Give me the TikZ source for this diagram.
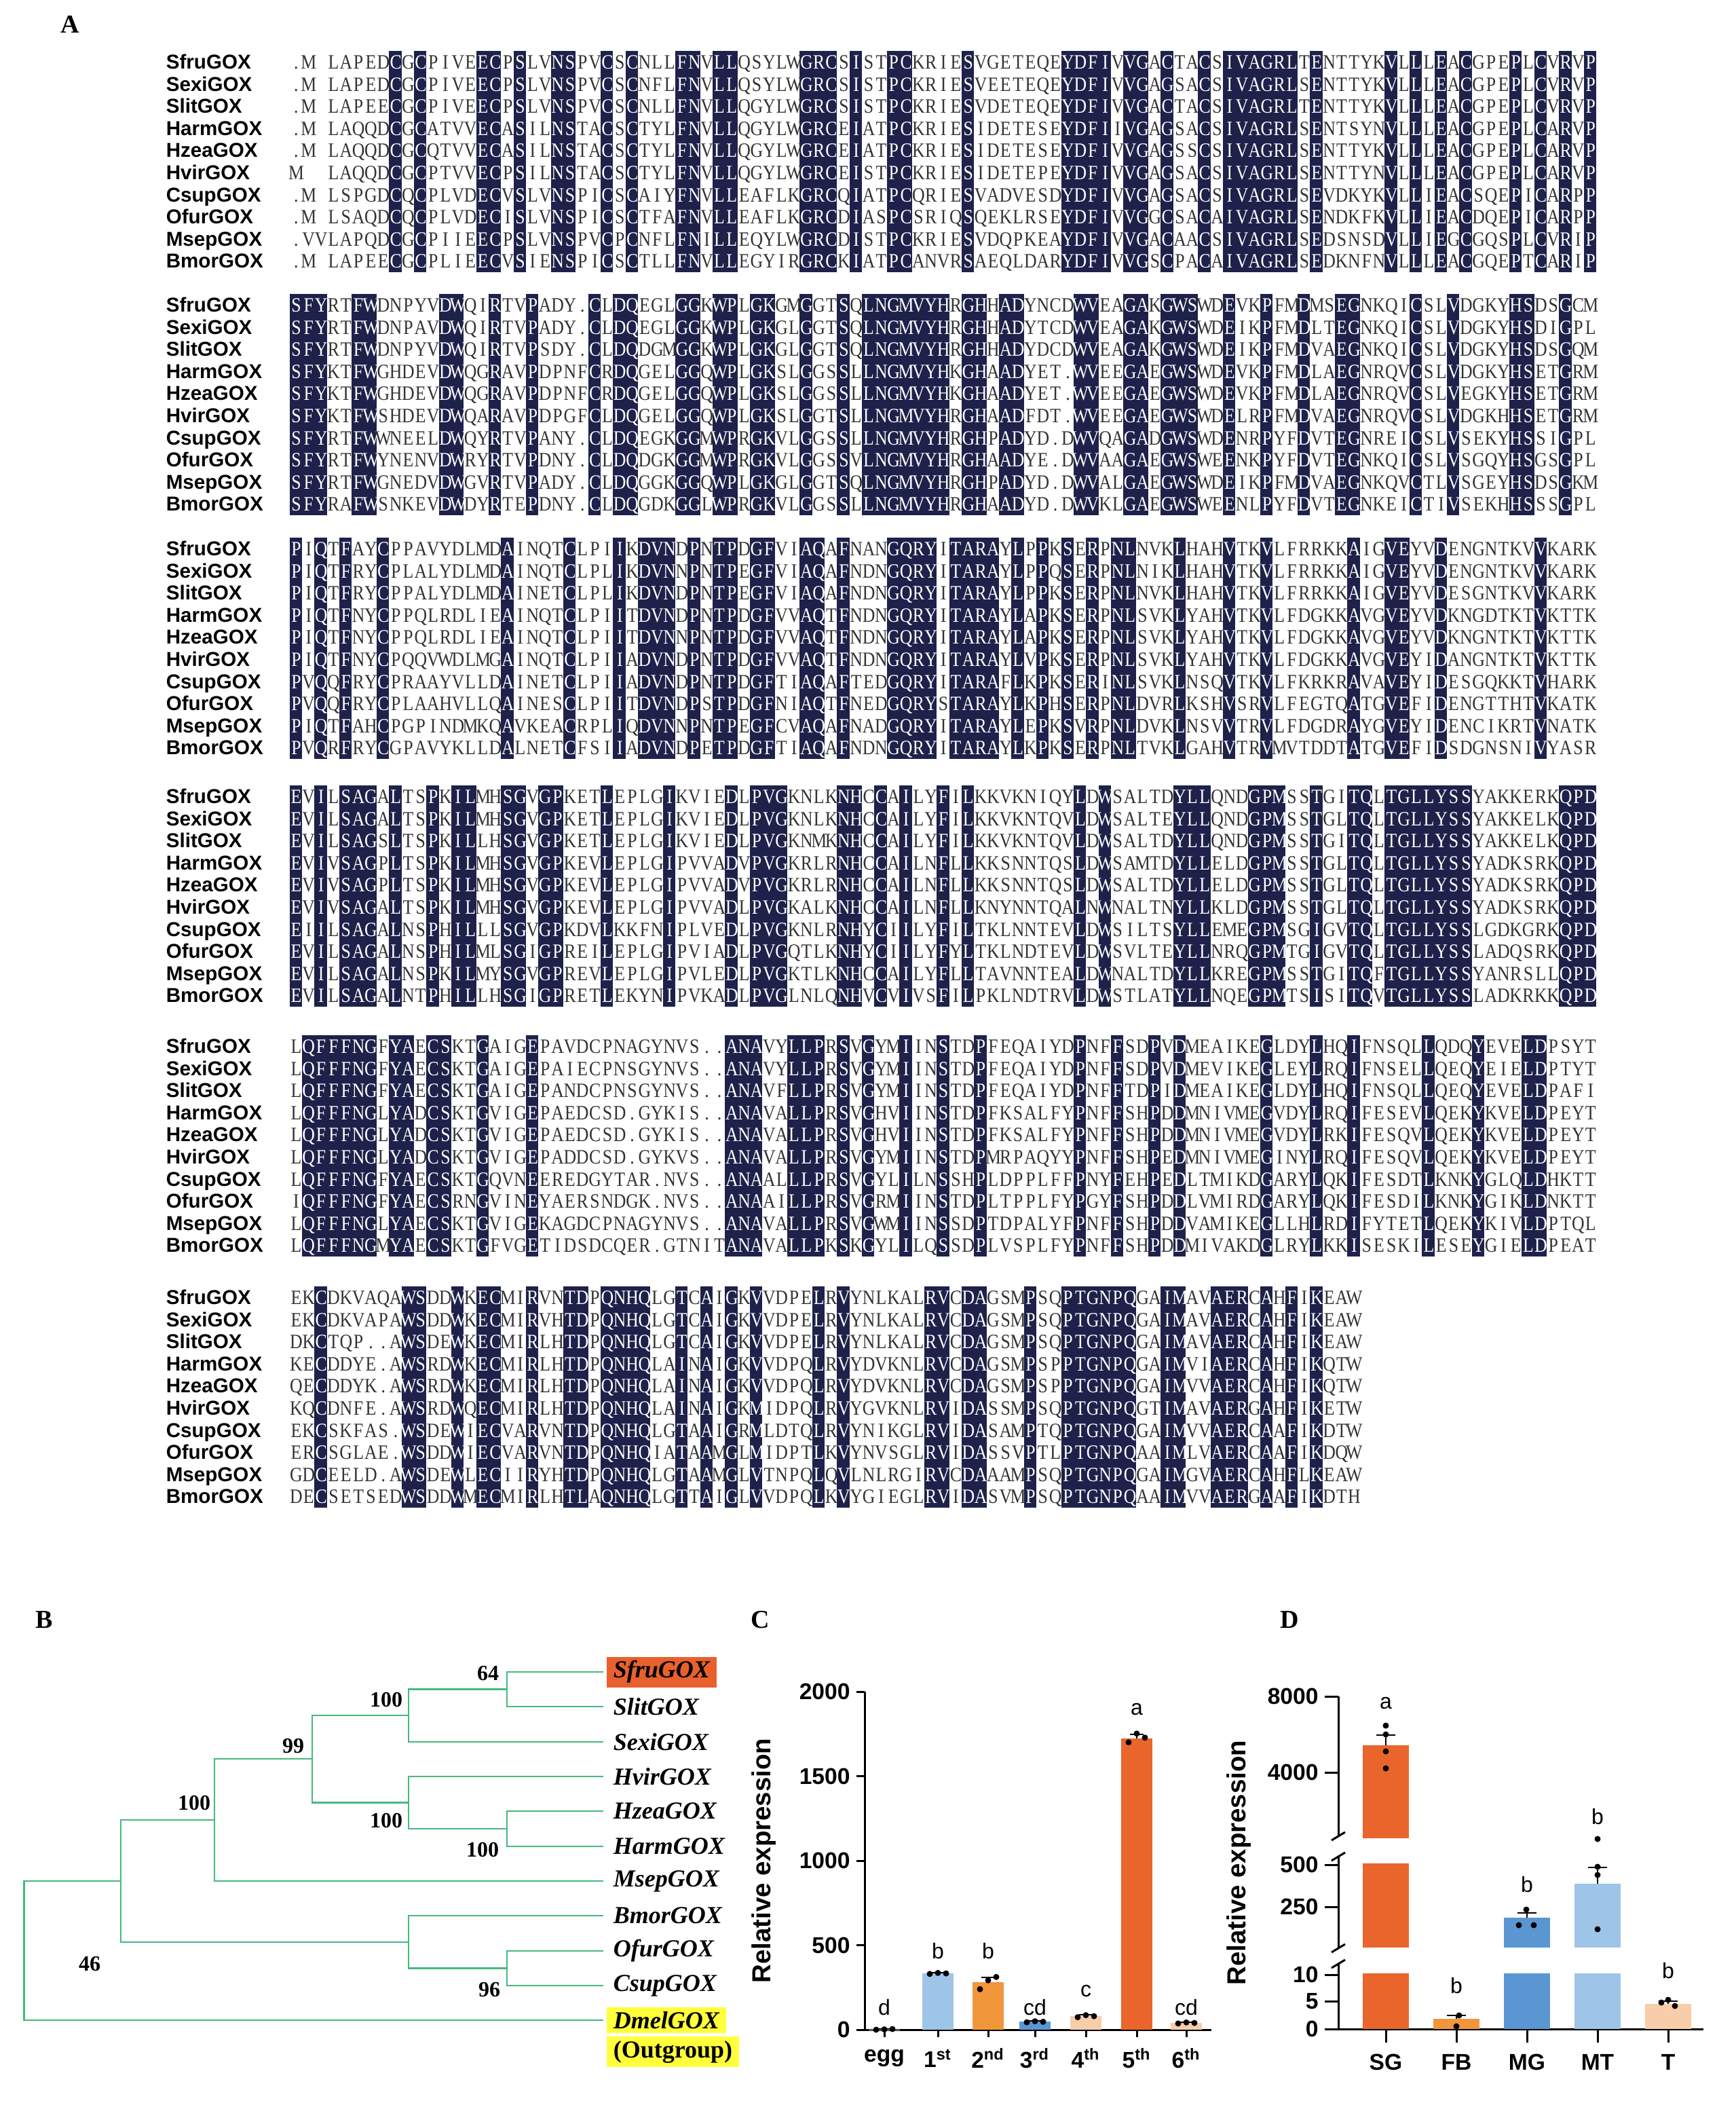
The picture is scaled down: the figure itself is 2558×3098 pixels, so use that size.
\documentclass[tikz,border=0pt]{standalone}
\usepackage{fontspec}
\setmainfont{Liberation Serif}
\setsansfont{Liberation Sans}
\newfontfamily\seqfont[FakeStretch=0.86]{Liberation Serif}
\definecolor{alnnavy}{RGB}{30,33,74}
\definecolor{treegreen}{RGB}{70,185,125}
\definecolor{barred}{RGB}{233,101,43}
\definecolor{barorange}{RGB}{242,150,60}
\definecolor{barblue}{RGB}{90,150,210}
\definecolor{barlight}{RGB}{158,196,232}
\definecolor{barpeach}{RGB}{248,205,170}
\definecolor{hlred}{RGB}{232,97,44}
\definecolor{hlyellow}{RGB}{255,255,60}

\newcount\alncol
\newcount\alnrowno
\def\alnblk{0}
\def\alnbase{0}
% shaded columns of one alignment block
\newcommand\alnstart[3]{%
  \gdef\alnblk{#1}\gdef\alnbase{#2}\global\alnrowno=0
  \foreach \mcol in {#3}{%
    \expandafter\gdef\csname alnm#1-\mcol\endcsname{}%
    \fill[alnnavy] ({426.5+18.34*\mcol},{#2-17}) rectangle ++(18.34,326.4);
  }}
% one sequence row, one fixed-width box per residue
\newcommand\alnrow[2]{%
  \pgfmathsetmacro\alny{\alnbase+32.6*\the\alnrowno+9.5}%
  \node[seqname] (#1\alnblk) at (244,\alny) {#1GOX};
  \global\alncol=0
  \node[seqline] (s#1\alnblk) at (426.5,\alny) {\alnscan#2\relax};
  \global\advance\alnrowno by 1\relax}
\def\alnscan#1{\ifx#1\relax\else\alnput#1\expandafter\alnscan\fi}
\def\alnput#1{%
  \if#1-\hbox to 4.585pt{}\else
    \hbox to 4.585pt{\hss\ifcsname alnm\alnblk-\the\alncol\endcsname\color{white}\fi#1\hss}%
  \fi
  \global\advance\alncol by 1\relax}

\begin{document}
\begin{tikzpicture}[x=0.25pt,y=-0.25pt,
    seqline/.style={font=\seqfont\fontsize{7.5}{8}\selectfont,inner sep=0pt,anchor=base west,text=black!80},
    seqname/.style={font=\sffamily\bfseries\fontsize{7.4}{8}\selectfont,inner sep=0pt,anchor=base west},
    panel/.style={font=\bfseries\fontsize{9.5}{10}\selectfont,inner sep=0pt},
    treeln/.style={draw=treegreen,line width=0.6pt},
    leaf/.style={font=\bfseries\itshape\fontsize{9}{10}\selectfont,anchor=west,inner xsep=2.5pt,inner ysep=1.5pt},
    boot/.style={font=\bfseries\fontsize{8}{9}\selectfont,inner sep=0pt},
    axisln/.style={line width=0.75pt},
    errln/.style={line width=0.5pt},
    ticklab/.style={font=\sffamily\bfseries\fontsize{8.4}{9}\selectfont,inner sep=2pt},
    catlab/.style={font=\sffamily\bfseries\fontsize{8.4}{9}\selectfont,inner sep=0pt},
    ylab/.style={font=\sffamily\bfseries\fontsize{9.6}{10}\selectfont,rotate=90,inner sep=0pt},
    sig/.style={font=\sffamily\fontsize{8}{9}\selectfont,inner sep=0pt}]
\useasboundingbox (0,0) rectangle (2558,3098);

\node[panel] (pA) at (103,36) {A};

\alnstart{1}{92}{8,10,15,16,18,21,22,25,27,31,32,34,35,41,42,43,45,48,49,54,62,63,64,65,67,68,70,73,75,76,77,78,79,80,82,88,90,92,94,98,100,102,104}
\alnrow{Sfru}{.M-LAPEDCGCPIVEECPSLVNSPVCSCNLLFNVLLQSYLWGRCSISTPCKRIESVGETEQEYDFIVVGACTACSIVAGRLTENTTYKVLLLEACGPEPLCVRVP}
\alnrow{Sexi}{.M-LAPEDCGCPIVEECPSLVNSPVCSCNFLFNVLLQSYLWGRCSISTPCKRIESVEETEQEYDFIVVGAGSACSIVAGRLSENTTYKVLLLEACGPEPLCVRVP}
\alnrow{Slit}{.M-LAPEECGCPIVEECPSLVNSPVCSCNLLFNVLLQGYLWGRCSISTPCKRIESVDETEQEYDFIVVGACTACSIVAGRLTENTTYKVLLLEACGPEPLCVRVP}
\alnrow{Harm}{.M-LAQQDCGCATVVECASILNSTACSCTYLFNVLLQGYLWGRCEIATPCKRIESIDETESEYDFIIVGAGSACSIVAGRLSENTSYNVLLLEACGPEPLCARVP}
\alnrow{Hzea}{.M-LAQQDCGCQTVVECASILNSTACSCTYLFNVLLQGYLWGRCEIATPCKRIESIDETESEYDFIVVGAGSSCSIVAGRLSENTTYKVLLLEACGPEPLCARVP}
\alnrow{Hvir}{M--LAQQDCGCPTVVECPSILNSTACSCTYLFNVLLQGYLWGRCEISTPCKRIESIDETEPEYDFIVVGAGSACSIVAGRLSENTTYNVLLLEACGPEPLCARVP}
\alnrow{Csup}{.M-LSPGDCQCPLVDECVSLVNSPICSCAIYFNVLLEAFLKGRCQIATPCQRIESVADVESDYDFIVVGAGSACSIVAGRLSEVDKYKVLLIEACSQEPICARPP}
\alnrow{Ofur}{.M-LSAQDCQCPLVDECISLVNSPICSCTFAFNVLLEAFLKGRCDIASPCSRIQSQEKLRSEYDFIVVGGCSACAIVAGRLSENDKFKVLLIEACDQEPICARPP}
\alnrow{Msep}{.VVLAPQDCGCPIIEECPSLVNSPVCPCNFLFNILLEQYLWGRCDISTPCKRIESVDQPKEAYDFIVVGACAACSIVAGRLSEDSNSDVLLIEGCGQSPLCVRIP}
\alnrow{Bmor}{.M-LAPEECGCPLIEECVSIENSPICSCTLLFNVLLEGYIRGRCKIATPCANVRSAEQLDARYDFIVVGSCPACAIVAGRLSEDKNFNVLLLEACGQEPTCARIP}

\alnstart{2}{450}{0,1,2,5,6,12,13,16,19,24,26,27,31,32,34,35,37,38,41,44,46,47,48,49,50,51,52,54,55,57,58,63,64,67,68,70,71,72,75,78,81,84,85,90,93,98,99,102}
\alnrow{Sfru}{SFYRTFWDNPYVDWQIRTVPADY.CLDQEGLGGKWPLGKGMGGTSQLNGMVYHRGHHADYNCDWVEAGAKGWSWDEVKPFMDMSEGNKQICSLVDGKYHSDSGCM}
\alnrow{Sexi}{SFYRTFWDNPAVDWQIRTVPADY.CLDQEGLGGKWPLGKGLGGTSQLNGMVYHRGHHADYTCDWVEAGAKGWSWDEIKPFMDLTEGNKQICSLVDGKYHSDIGPL}
\alnrow{Slit}{SFYRTFWDNPYVDWQIRTVPSDY.CLDQDGMGGKWPLGKGLGGTSQLNGMVYHRGHHADYDCDWVEAGAKGWSWDEIKPFMDVAEGNKQICSLVDGKYHSDSGQM}
\alnrow{Harm}{SFYKTFWGHDEVDWQGRAVPDPNFCRDQGELGGQWPLGKSLGGSSLLNGMVYHKGHAADYET.WVEEGAEGWSWDEVKPFMDLAEGNRQVCSLVDGKYHSETGRM}
\alnrow{Hzea}{SFYKTFWGHDEVDWQGRAVPDPNFCRDQGELGGQWPLGKSLGGSSLLNGMVYHKGHAADYET.WVEEGAEGWSWDEVKPFMDLAEGNRQVCSLVEGKYHSETGRM}
\alnrow{Hvir}{SFYKTFWSHDEVDWQARAVPDPGFCLDQGELGGQWPLGKSLGGTSLLNGMVYHRGHAADFDT.WVEEGAEGWSWDELRPFMDVAEGNRQVCSLVDGKHHSETGRM}
\alnrow{Csup}{SFYRTFWWNEELDWQYRTVPANY.CLDQEGKGGMWPRGKVLGGSSLLNGMVYHRGHPADYD.DWVQAGADGWSWDENRPYFDVTEGNREICSLVSEKYHSSIGPL}
\alnrow{Ofur}{SFYRTFWYNENVDWRYRTVPDNY.CLDQDGKGGMWPRGKVLGGSSVLNGMVYHRGHAADYE.DWVAAGAEGWSWEENKPYFDVTEGNKQICSLVSGQYHSGSGPL}
\alnrow{Msep}{SFYRTFWGNEDVDWGVRTVPADY.CLDQGGKGGQWPLGKGLGGTSQLNGMVYHRGHPADYD.DWVALGAEGWSWDEIKPFMDVAEGNKQVCTLVSGEYHSDSGKM}
\alnrow{Bmor}{SFYRAFWSNKEVDWDYRTEPDNY.CLDQGDKGGLWPRGKVLGGSSLLNGMVYHRGHAADYD.DWVKLGAEGWSWEENLPYFDVTEGNKEICTIVSEKHHSSSGPL}

\alnstart{3}{809}{0,2,4,7,17,22,26,28,29,30,32,34,35,37,38,41,42,44,48,49,50,51,53,54,55,56,58,60,62,64,66,67,71,75,78,85,88,89,92,100}
\alnrow{Sfru}{PIQTFAYCPPAVYDLMDAINQTCLPIIKDVNDPNTPDGFVIAQAFNANGQRYITARAYLPPKSERPNLNVKLHAHVTKVLFRRKKAIGVEYVDENGNTKVVKARK}
\alnrow{Sexi}{PIQTFRYCPLALYDLMDAINQTCLPLIKDVNNPNTPEGFVIAQAFNDNGQRYITARAYLPPQSERPNLNIKLHAHVTKVLFRRKKAIGVEYVDENGNTKVVKARK}
\alnrow{Slit}{PIQTFRYCPPALYDLMDAINETCLPLIKDVNDPNTPEGFVIAQAFNDNGQRYITARAYLPPKSERPNLNVKLHAHVTKVLFRRKKAIGVEYVDESGNTKVVKARK}
\alnrow{Harm}{PIQTFNYCPPQLRDLIEAINQTCLPIITDVNDPNTPDGFVVAQTFNDNGQRYITARAYLAPKSERPNLSVKLYAHVTKVLFDGKKAVGVEYVDKNGDTKTVKTTK}
\alnrow{Hzea}{PIQTFNYCPPQLRDLIEAINQTCLPIITDVNNPNTPDGFVVAQTFNDNGQRYITARAYLAPKSERPNLSVKLYAHVTKVLFDGKKAVGVEYVDKNGNTKTVKTTK}
\alnrow{Hvir}{PIQTFNYCPQQVWDLMGAINQTCLPIIADVNDPNTPDGFVVAQTFNDNGQRYITARAYLVPKSERPNLSVKLYAHVTKVLFDGKKAVGVEYIDANGNTKTVKTTK}
\alnrow{Csup}{PVQQFRYCPRAAYVLLDAINETCLPIIADVNDPNTPDGFTIAQAFTEDGQRYITARAFLKPKSERINLSVKLNSQVTKVLFKRKRAVAVEYIDESGQKKTVHARK}
\alnrow{Ofur}{PVQQFRYCPLAAHVLLQAINESCLPIITDVNDPSTPDGFNIAQTFNEDGQRYSTARAYLKPHSERPNLDVRLKSHVSRVLFEGTQATGVEFIDENGTTHTVKATK}
\alnrow{Msep}{PIQTFAHCPGPINDMKQAVKEACRPLIQDVNNPNTPEGFCVAQAFNADGQRYITARAYLEPKSVRPNLDVKLNSVVTRVLFDGDRAYGVEYIDENCIKRTVNATK}
\alnrow{Bmor}{PVQRFRYCGPAVYKLLDALNETCFSIIADVNDPETPDGFTIAQAFNDNGQRYITARAYLKPKSERPNLTVKLGAHVTRVMVTDDTATGVEFIDSDGNSNIVYASR}

\alnstart{4}{1174}{0,2,4,5,6,8,11,13,14,17,18,20,21,25,30,35,37,38,39,44,45,47,49,52,54,63,65,71,72,73,77,78,79,82,85,86,88,89,90,91,92,93,94,102,103,104}
\alnrow{Sfru}{EVILSAGALTSPKILMHSGVGPKETLEPLGIKVIEDLPVGKNLKNHCCAILYFILKKVKNIQYLDWSALTDYLLQNDGPMSSTGITQLTGLLYSSYAKKERKQPD}
\alnrow{Sexi}{EVILSAGALTSPKILMHSGVGPKETLEPLGIKVIEDLPVGKNLKNHCCAILYFILKKVKNTQVLDWSALTEYLLQNDGPMSSTGLTQLTGLLYSSYAKKELKQPD}
\alnrow{Slit}{EVILSAGSLTSPKILLHSGVGPKETLEPLGIKVIEDLPVGKNMKNHCCAILYFILKKVKNTQVLDWSALTDYLLQNDGPMSSTGITQLTGLLYSSYAKKELKQPD}
\alnrow{Harm}{EVIVSAGPLTSPKILMHSGVGPKEVLEPLGIPVVADVPVGKRLRNHCCAILNFLLKKSNNTQSLDWSAMTDYLLELDGPMSSTGLTQLTGLLYSSYADKSRKQPD}
\alnrow{Hzea}{EVIVSAGPLTSPKILMHSGVGPKEVLEPLGIPVVADVPVGKRLRNHCCAILNFLLKKSNNTQSLDWSALTDYLLELDGPMSSTGLTQLTGLLYSSYADKSRKQPD}
\alnrow{Hvir}{EVIVSAGALTSPKILMHSGVGPKEVLEPLGIPVVADLPVGKALKNHCCAILNFLLKNYNNTQALNWNALTNYLLKLDGPMSSTGLTQLTGLLYSSYADKSRKQPD}
\alnrow{Csup}{EIILSAGALNSPHILLLSGVGPKDVLKKFNIPLVEDLPVGKNLRNHYCIILYFILTKLNNTEVLDWSILTSYLLEMEGPMSGIGVTQLTGLLYSSLGDKGRKQPD}
\alnrow{Ofur}{EVILSAGALNSPHILMLSGIGPREILEPLGIPVIADLPVGQTLKNHYCIILYFYLTKLNDTEVLDWSVLTEYLLNRQGPMTGIGVTQLTGLLYSSLADQSRKQPD}
\alnrow{Msep}{EVILSAGALNSPKILMYSGVGPREVLEPLGIPVLEDLPVGKTLKNHCCAILYFLLTAVNNTEALDWNALTDYLLKREGPMSSTGITQFTGLLYSSYANRSLLQPD}
\alnrow{Bmor}{EVILSAGALNTPHILLHSGIGPRETLEKYNIPVKADLPVGLNLQNHVCVIVSFILPKLNDTRVLDWSTLATYLLNQEGPMTSISITQVTGLLYSSLADKRKKQPD}

\alnstart{5}{1542}{1,2,3,4,5,6,8,9,11,12,15,19,35,36,37,40,41,42,44,46,49,52,55,63,66,69,71,78,82,85,91,95,99,100}
\alnrow{Sfru}{LQFFFNGFYAECSKTGAIGEPAVDCPNAGYNVS..ANAVYLLPRSVGYMIINSTDPFEQAIYDPNFFSDPVDMEAIKEGLDYLHQIFNSQLLQDQYEVELDPSYT}
\alnrow{Sexi}{LQFFFNGFYAECSKTGAIGEPAIECPNSGYNVS..ANAVYLLPRSVGYMIINSTDPFEQAIYDPNFFSDPVDMEVIKEGLEYLRQIFNSELLQEQYEIELDPTYT}
\alnrow{Slit}{LQFFFNGFYAECSKTGAIGEPANDCPNSGYNVS..ANAVFLLPRSVGYMIINSTDPFEQAIYDPNFFTDPIDMEAIKEGLDYLHQIFNSQLLQEQYEVELDPAFI}
\alnrow{Harm}{LQFFFNGLYADCSKTGVIGEPAEDCSD.GYKIS..ANAVALLPRSVGHVIINSTDPFKSALFYPNFFSHPDDMNIVMEGVDYLRQIFESEVLQEKYKVELDPEYT}
\alnrow{Hzea}{LQFFFNGLYADCSKTGVIGEPAEDCSD.GYKIS..ANAVALLPRSVGHVIINSTDPFKSALFYPNFFSHPDDMNIVMEGVDYLRKIFESQVLQEKYKVELDPEYT}
\alnrow{Hvir}{LQFFFNGLYADCSKTGVIGEPADDCSD.GYKVS..ANAVALLPRSVGYMIINSTDPMRPAQYYPNFFSHPEDMNIVMEGINYLRQIFESQVLQEKYKVELDPEYT}
\alnrow{Csup}{LQFFFNGFYAECSKTGQVNEEREDGYTAR.NVS..ANAALLLPRSVGYLILNSSHPLDPPLFFPNYFEHPEDLTMIKDGARYLQKIFESDTLKNKYGLQLDHKTT}
\alnrow{Ofur}{IQFFFNGFYAECSRNGVINEYAERSNDGK.NVS..ANAAILLPRSVGRMIINSTDPLTPPLFYPGYFSHPDDLVMIRDGARYLQKIFESDILKNKYGIKLDNKTT}
\alnrow{Msep}{LQFFFNGLYAECSKTGVIGEKAGDCPNAGYNVS..ANAVALLPRSVGWMIINSSDPTDPALYFPNFFSHPDDVAMIKEGLLHLRDIFYTETLQEKYKIVLDPTQL}
\alnrow{Bmor}{LQFFFNGMYAECSKTGFVGETIDSDCQER.GTNITANAVALLPKSKGYLILQSSDPLVSPLFYPNFFSHPDDMIVAKDGLRYLKKISESKILESEYGIELDPEAT}

\alnstart{6}{1912}{2,9,10,13,15,16,19,22,23,25,26,27,28,31,33,35,37,42,44,51,52,54,55,59,62,63,64,65,66,67,70,71,74,75,76,78,80,82}
\alnrow{Sfru}{EKCDKVAQAWSDDWKECMIRVNTDPQNHQLGTCAIGKVVDPELRVYNLKALRVCDAGSMPSQPTGNPQGAIMAVAERCAHFIKEAW}
\alnrow{Sexi}{EKCDKVAPAWSDDWKECMIRVHTDPQNHQLGTCAIGKVVDPELRVYNLKALRVCDAGSMPSQPTGNPQGAIMAVAERCAHFIKEAW}
\alnrow{Slit}{DKCTQP..AWSDEWKECMIRLHTDPQNHQLGTCAIGKVVDPELRVYNLKALRVCDAGSMPSQPTGNPQGAIMAVAERCAHFIKEAW}
\alnrow{Harm}{KECDDYE.AWSRDWKECMIRLHTDPQNHQLAINAIGKVVDPQLRVYDVKNLRVCDAGSMPSPPTGNPQGAIMVIAERCAHFIKQTW}
\alnrow{Hzea}{QECDDYK.AWSRDWKECMIRLHTDPQNHQLAINAIGKVVDPQLRVYDVKNLRVCDAGSMPSPPTGNPQGAIMVVAERCAHFIKQTW}
\alnrow{Hvir}{KQCDNFE.AWSRDWQECMIRLHTDPQNHQLAINAIGKMIDPQLRVYGVKNLRVIDASSMPSQPTGNPQGTIMAVAERGAHFIKETW}
\alnrow{Csup}{EKCSKFAS.WSDEWIECVARVNTDPQNHQLGTAAIGRMLDTQLRVYNIKGLRVIDASAMPTQPTGNPQGAIMVVAERCAAFIKDTW}
\alnrow{Ofur}{ERCSGLAE.WSDDWIECVARVNTDPQNHQIATAAMGLMIDPTLKVYNVSGLRVIDASSVPTLPTGNPQAAIMLVAERCAAFIKDQW}
\alnrow{Msep}{GDCEELD.AWSDEWLECIIRYHTDPQNHQLGTAAMGLVTNPQLQVLNLRGIRVCDAAAMPSQPTGNPQGAIMGVAERCAHFLKEAW}
\alnrow{Bmor}{DECSETSEDWSDDWMECMIRLHTLAQNHQLGTTAIGLVVDPQLKVYGIEGLRVIDASVMPSQPTGNPQAAIMVVAERGAAFIKDTH}

% B: tree
\node[panel] (pB) at (65,2386) {B};
\coordinate (n1) at (747,2488.5);
\coordinate (n2) at (602,2527);
\coordinate (n3) at (747,2694);
\coordinate (n4) at (602,2655.5);
\coordinate (n5) at (460,2591);
\coordinate (n6) at (316,2681);
\coordinate (n7) at (747,2899.5);
\coordinate (n8) at (602,2861);
\coordinate (n9) at (178,2771);
\coordinate (root) at (35.5,2873.5);
\coordinate (lSfru) at (889,2463);
\coordinate (lSlit) at (889,2514);
\coordinate (lSexi) at (889,2566);
\coordinate (lHvir) at (889,2617);
\coordinate (lHzea) at (889,2668);
\coordinate (lHarm) at (889,2720);
\coordinate (lMsep) at (889,2771);
\coordinate (lBmor) at (889,2822);
\coordinate (lOfur) at (889,2874);
\coordinate (lCsup) at (889,2925);
\coordinate (lDmel) at (889,2976);
\draw[treeln] (n1) |- (lSfru);
\draw[treeln] (n1) |- (lSlit);
\draw[treeln] (n2) |- (n1);
\draw[treeln] (n2) |- (lSexi);
\draw[treeln] (n3) |- (lHzea);
\draw[treeln] (n3) |- (lHarm);
\draw[treeln] (n4) |- (lHvir);
\draw[treeln] (n4) |- (n3);
\draw[treeln] (n5) |- (n2);
\draw[treeln] (n5) |- (n4);
\draw[treeln] (n6) |- (n5);
\draw[treeln] (n6) |- (lMsep);
\draw[treeln] (n7) |- (lOfur);
\draw[treeln] (n7) |- (lCsup);
\draw[treeln] (n8) |- (lBmor);
\draw[treeln] (n8) |- (n7);
\draw[treeln] (n9) |- (n6);
\draw[treeln] (n9) |- (n8);
\draw[treeln] (root) |- (n9);
\draw[treeln] (root) |- (lDmel);
\node[leaf,fill=hlred] (tSfru) at (893,2463) {SfruGOX};
\node[leaf] (tSlit) at (893,2514) {SlitGOX};
\node[leaf] (tSexi) at (893,2566) {SexiGOX};
\node[leaf] (tHvir) at (893,2617) {HvirGOX};
\node[leaf] (tHzea) at (893,2668) {HzeaGOX};
\node[leaf] (tHarm) at (893,2720) {HarmGOX};
\node[leaf] (tMsep) at (893,2771) {MsepGOX};
\node[leaf] (tBmor) at (893,2822) {BmorGOX};
\node[leaf] (tOfur) at (893,2874) {OfurGOX};
\node[leaf] (tCsup) at (893,2925) {CsupGOX};
\node[leaf,fill=hlyellow] (tDmel) at (893,2976) {DmelGOX};
\node[leaf,fill=hlyellow,font=\bfseries\fontsize{9}{10}\selectfont,anchor=north west] (tOut) at ([yshift=-1pt]tDmel.south west) {(Outgroup)};
\node[boot] (b1) at (719,2465) {64};
\node[boot] (b2) at (569,2504) {100};
\node[boot] (b3) at (432,2572) {99};
\node[boot] (b4) at (569,2682) {100};
\node[boot] (b5) at (711,2725) {100};
\node[boot] (b6) at (286,2656) {100};
\node[boot] (b7) at (132,2893) {46};
\node[boot] (b8) at (721,2931) {96};

% C: stages
\node[panel] (pC) at (1120,2386) {C};
\draw[axisln] (1274,2492) -- (1274,2990) -- (1785,2990);
\foreach \v in {0,500,1000,1500,2000}
  \draw[axisln] (1274,{2990-0.249*\v}) -- (1262,{2990-0.249*\v}) node[ticklab,anchor=east] {\v};
\node[ylab] (yC) at (1126,2741) {Relative expression};
\foreach \x/\v/\e/\c in {1303/2/1/barpeach,1382/333/6/barlight,1456/280/30/barorange,1525/48/6/barblue,1600/80/8/barpeach,1675/1725/22/barred,1748/40/6/barpeach}{
  \fill[\c] (\x-23,2990) rectangle (\x+23,{2990-0.249*\v});
  \draw[errln] (\x,{2990-0.249*\v}) -- (\x,{2990-0.249*(\v+\e)});
  \draw[errln] (\x-10,{2990-0.249*(\v+\e)}) -- (\x+10,{2990-0.249*(\v+\e)});
  \draw[axisln] (\x,2990) -- (\x,3001);
}
\foreach \x/\a/\b/\d in {1303/0/2/4,1382/330/336/333,1456/240/292/312,1525/44/50/47,1600/74/86/80,1675/1700/1752/1728,1748/37/43/40}{
  \fill (\x-12,{2990-0.249*\a}) circle (4.5);
  \fill (\x,{2990-0.249*\b}) circle (4.5);
  \fill (\x+12,{2990-0.249*\d}) circle (4.5);
}
\foreach \x/\t in {1303/egg,1382/{1\textsuperscript{st}},1456/{2\textsuperscript{nd}},1525/{3\textsuperscript{rd}},1600/{4\textsuperscript{th}},1675/{5\textsuperscript{th}},1748/{6\textsuperscript{th}}}
  \node[catlab] at (\x,3032) {\t};
\node[sig] (sC1) at (1303,2957) {d};
\node[sig] (sC2) at (1382,2874) {b};
\node[sig] (sC3) at (1456,2874) {b};
\node[sig] (sC4) at (1525,2957) {cd};
\node[sig] (sC5) at (1600,2933) {c};
\node[sig] (sC6) at (1675,2518) {a};
\node[sig] (sC7) at (1748,2957) {cd};

% D: tissues
\node[panel] (pD) at (1900,2386) {D};
\draw[axisln] (1972,2499) -- (1972,2705);
\draw[axisln] (1972,2735) -- (1972,2870);
\draw[axisln] (1972,2893) -- (1972,2989) -- (2510,2989);
\foreach \y in {2705,2735,2870,2893}
  \draw[axisln] (1962,\y+6) -- (1982,\y-6);
\foreach \y/\t in {2499/8000,2611/4000,2747/500,2809/250,2909/10,2948/5,2989/0}
  \draw[axisln] (1972,\y) -- (1952,\y) node[ticklab,anchor=east] {\t};
\node[ylab] (yD) at (1826,2744) {Relative expression};
\fill[barred] (2008,2989) rectangle (2076,2907);
\fill[barred] (2008,2869) rectangle (2076,2745);
\fill[barred] (2008,2708) rectangle (2076,2571);
\fill[barorange] (2112,2989) rectangle (2180,2974);
\fill[barblue] (2216,2989) rectangle (2284,2907);
\fill[barblue] (2216,2869) rectangle (2284,2825);
\fill[barlight] (2320,2989) rectangle (2388,2907);
\fill[barlight] (2320,2869) rectangle (2388,2775);
\fill[barpeach] (2424,2989) rectangle (2492,2952);
\foreach \x/\t/\b in {2042/2571/2556,2146/2974/2969,2250/2825/2818,2354/2775/2751,2458/2952/2948}{
  \draw[errln] (\x,\t) -- (\x,\b);
  \draw[errln] (\x-14,\b) -- (\x+14,\b);
  \draw[axisln] (\x,2989) -- (\x,3009);
}
\foreach \x/\y in {2042/2542,2042/2555,2042/2580,2042/2605,2150/2969,2146/2985,2249/2813,2238/2836,2260/2836,2354/2709,2354/2750,2354/2762,2354/2842,2448/2950,2458/2946,2468/2955}
  \fill (\x,\y) circle (4.5);
\foreach \x/\t in {2042/SG,2146/FB,2250/MG,2354/MT,2458/T}
  \node[catlab] at (\x,3038) {\t};
\node[sig] (sD1) at (2042,2509) {a};
\node[sig] (sD2) at (2146,2925) {b};
\node[sig] (sD3) at (2250,2776) {b};
\node[sig] (sD4) at (2354,2676) {b};
\node[sig] (sD5) at (2458,2903) {b};
\end{tikzpicture}
\end{document}
